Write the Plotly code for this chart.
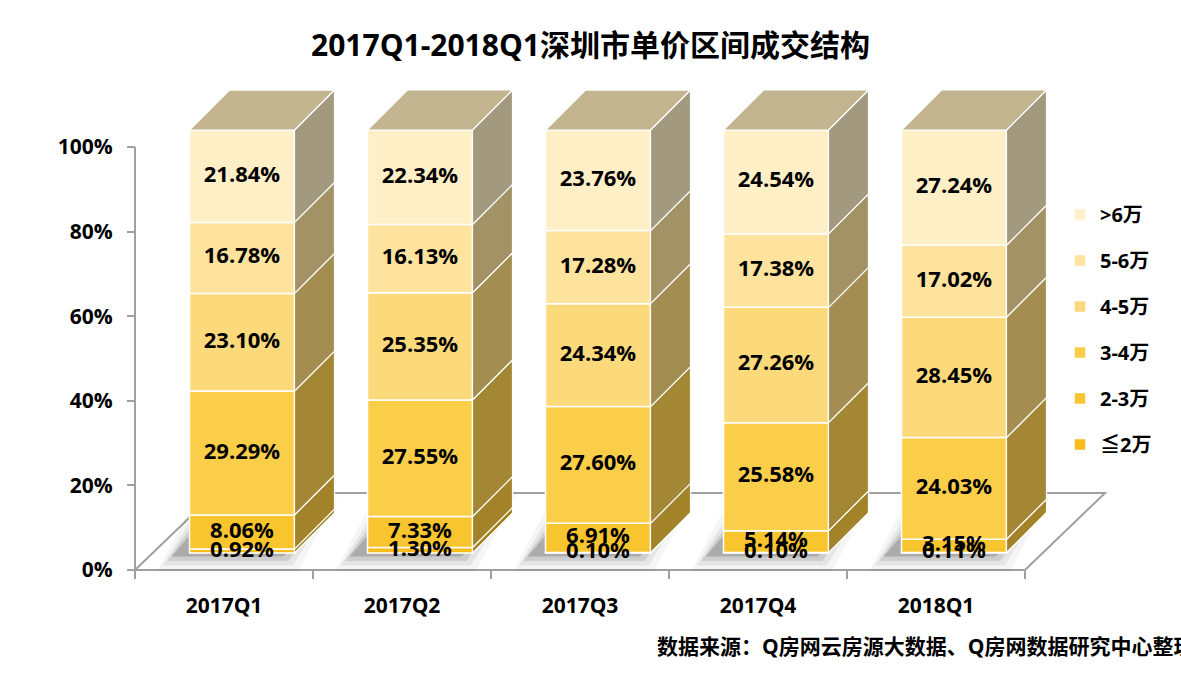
import plotly.graph_objects as go

# ---------------- data ----------------
categories = ["2017Q1", "2017Q2", "2017Q3", "2017Q4", "2018Q1"]
series_names = ["≦2万", "2-3万", "3-4万", "4-5万", "5-6万", ">6万"]
share_le2 = [0.92, 1.30, 0.10, 0.10, 0.11]
share_2_3 = [8.06, 7.33, 6.91, 5.14, 3.15]
share_3_4 = [29.29, 27.55, 27.60, 25.58, 24.03]
share_4_5 = [23.10, 25.35, 24.34, 27.26, 28.45]
share_5_6 = [16.78, 16.13, 17.28, 17.38, 17.02]
share_gt6 = [21.84, 22.34, 23.76, 24.54, 27.24]
y_tick_vals = [0, 20, 40, 60, 80, 100]
y_tick_text = ["0%", "20%", "40%", "60%", "80%", "100%"]
title_text = "2017Q1-2018Q1深圳市单价区间成交结构"
source_text = "数据来源：Q房网云房源大数据、Q房网数据研究中心整理"

series_values = [share_le2, share_2_3, share_3_4, share_4_5, share_5_6, share_gt6]

# ---------------- style / geometry ----------------
front_colors = ["#F5BC1B", "#F8C52F", "#FBCE4A", "#FCDA7C", "#FDE39E", "#FEEFC6"]
side_colors = ["#A07E19", "#A2832A", "#A38735", "#A38D50", "#A39266", "#A2997F"]
top_color = "#C1B48F"
axis_gray = "#A0A0A0"
FONT = "Open Sans, Noto Sans CJK SC, sans-serif"

W, H = 1181, 692
PX_X = 178.0          # pixels per category
PX_Y = 4.23           # pixels per percent
PLOT_L, PLOT_R, PLOT_T, PLOT_B = 130, 1123, 84, 574
AXIS_X_PX, AXIS_Y_PX = 135, 570
X0 = -0.5 - (AXIS_X_PX - PLOT_L) / PX_X
X1 = X0 + (PLOT_R - PLOT_L) / PX_X
Y0 = -(PLOT_B - AXIS_Y_PX) / PX_Y
Y1 = Y0 + (PLOT_B - PLOT_T) / PX_Y

BAR_W = 105 / PX_X
FRONT_DX = 18 / PX_X
LIFT = 17 / PX_Y
DEPTH_DX = 40 / PX_X
DEPTH_DY = 40 / PX_Y
FLOOR_DX = 80 / PX_X
FLOOR_DY = 77 / PX_Y

n = len(categories)
idx = list(range(n))

# cumulative bases
bases = []
run = [0.0] * n
for vals in series_values:
    bases.append(list(run))
    run = [r + v for r, v in zip(run, vals)]
totals = run

fig = go.Figure()

# front faces (bars)
for k, (name, vals) in enumerate(zip(series_names, series_values)):
    fig.add_trace(go.Bar(
        x=idx, y=vals, base=[LIFT + b for b in bases[k]],
        width=BAR_W, offset=-BAR_W / 2 + FRONT_DX,
        name=name, legendgroup=name, legendrank=1000 - 10 * k,
        marker=dict(color=front_colors[k], line=dict(color="white", width=1.5)),
        hoverinfo="skip",
    ))

# side faces
for k, vals in enumerate(series_values):
    xs, ys = [], []
    for i in idx:
        xr = i - BAR_W / 2 + FRONT_DX + BAR_W
        y0 = LIFT + bases[k][i]
        y1 = y0 + vals[i]
        xs += [xr, xr + DEPTH_DX, xr + DEPTH_DX, xr, xr, None]
        ys += [y0, y0 + DEPTH_DY, y1 + DEPTH_DY, y1, y0, None]
    fig.add_trace(go.Scatter(
        x=xs, y=ys, mode="lines", fill="toself", fillcolor=side_colors[k],
        line=dict(color="white", width=1.2), showlegend=False, hoverinfo="skip",
    ))

# top faces
xs, ys = [], []
for i in idx:
    xl = i - BAR_W / 2 + FRONT_DX
    xr = xl + BAR_W
    yt = LIFT + totals[i]
    xs += [xl, xr, xr + DEPTH_DX, xl + DEPTH_DX, xl, None]
    ys += [yt, yt, yt + DEPTH_DY, yt + DEPTH_DY, yt, None]
fig.add_trace(go.Scatter(
    x=xs, y=ys, mode="lines", fill="toself", fillcolor=top_color,
    line=dict(color="white", width=1.2), showlegend=False, hoverinfo="skip",
))

# data labels
lx, ly, lt = [], [], []
for k, vals in enumerate(series_values):
    for i in idx:
        lx.append(i + FRONT_DX)
        ly.append(LIFT + bases[k][i] + vals[i] / 2)
        lt.append(f"{vals[i]:.2f}%")
fig.add_trace(go.Scatter(
    x=lx, y=ly, text=lt, mode="text", cliponaxis=False,
    textfont=dict(family=FONT, size=22, color="black", weight="bold"),
    showlegend=False, hoverinfo="skip",
))

# shapes: floor, shadows, y axis line
shapes = [dict(
    type="path", xref="x", yref="y", layer="below",
    path=f"M{-0.5},0 L{n - 0.5},0 L{n - 0.5 + FLOOR_DX},{FLOOR_DY} L{-0.5 + FLOOR_DX},{FLOOR_DY} Z",
    fillcolor="white", line=dict(color=axis_gray, width=2),
)]
for i in idx:
    xl = i - BAR_W / 2 + FRONT_DX
    xr = xl + BAR_W
    for grow, alpha in [(0.10, 0.05), (0.07, 0.08), (0.045, 0.13), (0.02, 0.22)]:
        gx = grow
        gy = grow * PX_X / PX_Y
        sx = -0.08
        p = (f"M{xl - gx + sx},{LIFT - gy} L{xr + gx + sx},{LIFT - gy} "
             f"L{xr + DEPTH_DX + gx + sx},{LIFT + DEPTH_DY + gy} "
             f"L{xl + DEPTH_DX - gx + sx},{LIFT + DEPTH_DY + gy} Z")
        shapes.append(dict(type="path", xref="x", yref="y", layer="below", path=p,
                           fillcolor=f"rgba(50,50,50,{alpha})", line=dict(width=0)))
shapes.append(dict(type="line", xref="x", yref="y", layer="below",
                   x0=-0.5, x1=-0.5, y0=0, y1=y_tick_vals[-1],
                   line=dict(color=axis_gray, width=2)))

fig.update_layout(
    width=W, height=H,
    margin=dict(l=PLOT_L, r=W - PLOT_R, t=PLOT_T, b=H - PLOT_B, pad=0, autoexpand=False),
    paper_bgcolor="white", plot_bgcolor="rgba(0,0,0,0)",
    barmode="overlay", hovermode=False,
    title=dict(text=title_text, x=0.5, xref="container", xanchor="center",
               y=1 - 45 / H, yref="container", yanchor="middle",
               font=dict(family=FONT, size=30, color="black", weight="bold")),
    xaxis=dict(range=[X0, X1], showgrid=False, zeroline=False, showline=False,
               tickvals=idx, ticktext=categories, ticks="",
               ticklabelstandoff=21, automargin=False,
               anchor="free", position=(PLOT_B - AXIS_Y_PX) / (PLOT_B - PLOT_T),
               tickfont=dict(family=FONT, size=21, color="black", weight="bold"),
               minor=dict(tickvals=[i - 0.5 for i in range(n + 1)], ticks="outside",
                          ticklen=8, tickwidth=1.5, tickcolor=axis_gray, showgrid=False)),
    yaxis=dict(range=[Y0, Y1], showgrid=False, zeroline=False, showline=False,
               tickvals=y_tick_vals, ticktext=y_tick_text,
               ticks="outside", ticklen=8, tickwidth=1.5, tickcolor=axis_gray,
               ticklabelstandoff=10, automargin=False,
               anchor="free", position=(AXIS_X_PX - PLOT_L) / (PLOT_R - PLOT_L),
               tickfont=dict(family=FONT, size=21, color="black", weight="bold")),
    legend=dict(xref="container", yref="container", x=1060 / W, y=1 - 195 / H,
                xanchor="left", yanchor="top", traceorder="grouped",
                tracegroupgap=17, bgcolor="rgba(0,0,0,0)",
                font=dict(family=FONT, size=20, color="black", weight="bold")),
    shapes=shapes,
    annotations=[dict(text=source_text, xref="paper", yref="paper",
                      x=(655 - PLOT_L) / (PLOT_R - PLOT_L),
                      y=(PLOT_B - 646) / (PLOT_B - PLOT_T),
                      xanchor="left", yanchor="middle", showarrow=False,
                      font=dict(family=FONT, size=21, color="black", weight="bold"))],
)

fig.write_html("out.html", config={"displayModeBar": False},
               post_script="document.body.style.margin='0';document.body.style.overflow='hidden';")
